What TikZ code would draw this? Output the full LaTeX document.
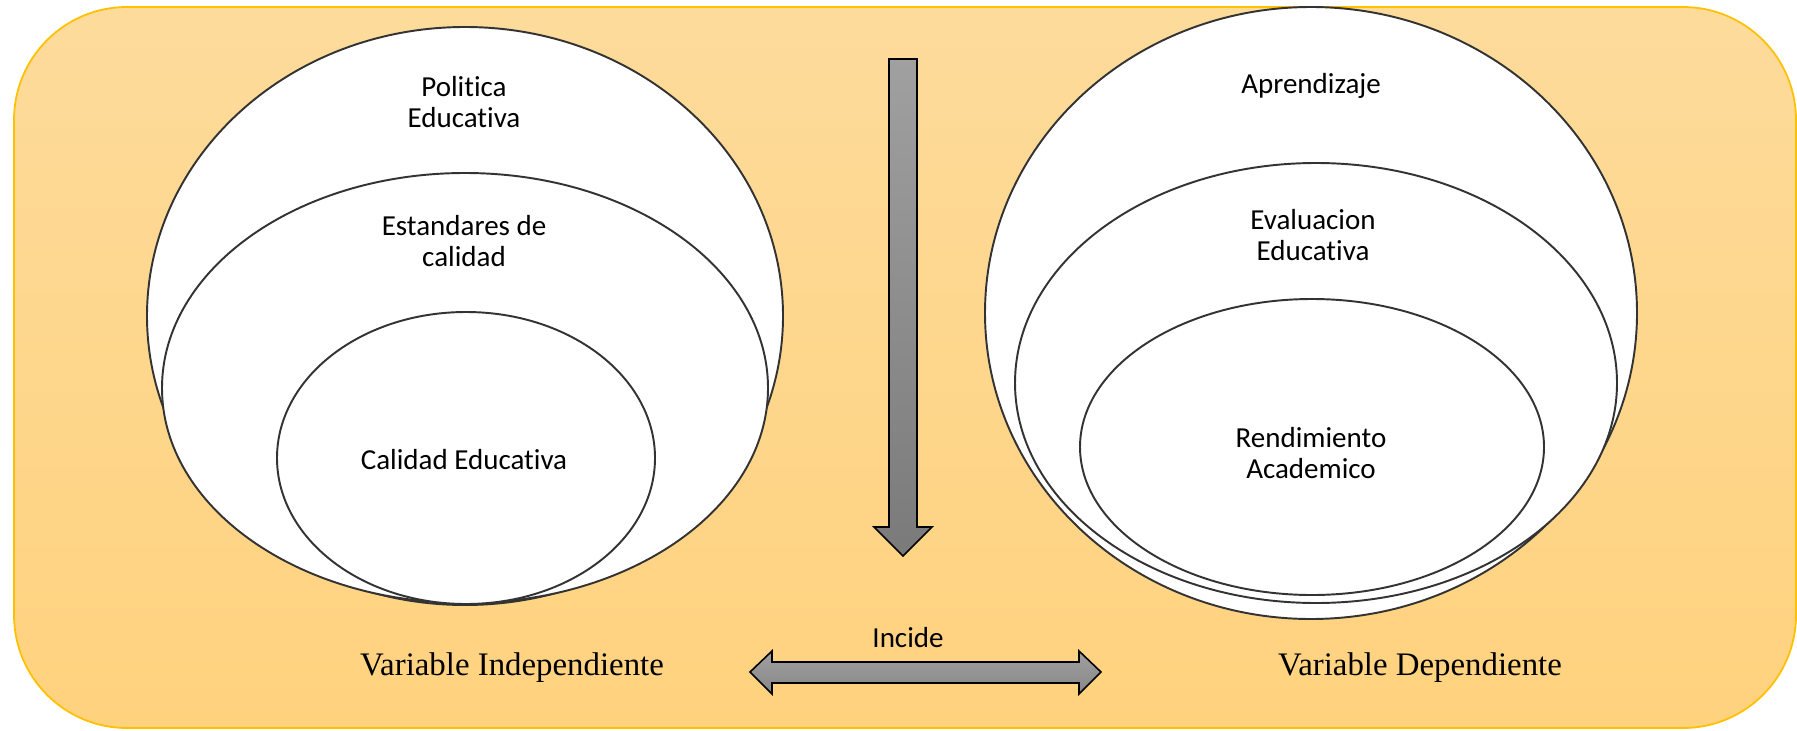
\documentclass[tikz,border=0pt]{standalone}
\usepackage{fontspec}
\setmainfont{Carlito}[Ligatures=NoCommon]
\newfontfamily\timesfont{Liberation Serif}
\usetikzlibrary{calc}

\definecolor{fondhaut}{HTML}{FDDB9B}
\definecolor{fondbas}{HTML}{FFD27E}
\definecolor{bord}{HTML}{FFC000}
\definecolor{flechehaut}{HTML}{A0A0A0}
\definecolor{flechebas}{HTML}{7A7A7A}
\definecolor{trait}{HTML}{333333}

\begin{document}
\begin{tikzpicture}[x=0.02cm,y=-0.02cm,line width=1pt]
\tikzset{
	cercle/.style={draw=trait, fill=white, line width=1.1pt},
	texte/.style={font=\fontsize{16.5}{17.6}\selectfont, align=center, inner sep=0pt},
	varlabel/.style={font=\timesfont\fontsize{18.7}{20}\selectfont, inner sep=0pt},
	fleche/.style={draw=black, line width=0.9pt, line join=miter}
}
\useasboundingbox (0,0) rectangle (1797,730);

%% fond
\shade [top color=fondhaut, bottom color=fondbas, draw=bord, line width=1pt, rounded corners=2.26cm] (14,7) rectangle (1796,728);

\coordinate (g1) at (465,316);
\coordinate (g2) at (465,388);
\coordinate (g3) at (466,458);
\coordinate (d1) at (1311,313);
\coordinate (d2) at (1316,383);
\coordinate (d3) at (1312,447);

%% cercles gauche
\draw [cercle] (g1) ellipse [x radius=318, y radius=289];
\draw [cercle] (g2) ellipse [x radius=303, y radius=215];
\draw [cercle] (g3) ellipse [x radius=189, y radius=146];

%% cercles droite
\draw [cercle] (d1) ellipse [x radius=326, y radius=306];
\draw [cercle] (d2) ellipse [x radius=301, y radius=220];
\draw [cercle] (d3) ellipse [x radius=232, y radius=148];

%% textes
\node [texte] (politica) at (464,102) {Politica\\Educativa};
\node [texte] (estandares) at (464,241) {Estandares de\\calidad};
\node [texte] (calidad) at (464,460) {Calidad Educativa};
\node [texte] (aprendizaje) at (1311,86) {Aprendizaje};
\node [texte] (evaluacion) at (1313,235) {Evaluacion\\Educativa};
\node [texte] (rendimiento) at (1311,453) {Rendimiento\\Academico};

%% fleche bas
\shade [fleche, top color=flechehaut, bottom color=flechebas]
	(889,59)--(917,59)--(917,527)--(932,527)--(903,556)--(874,527)--(889,527)--cycle;

%% fleche double
\shade [fleche, top color=flechehaut, bottom color=flechebas!90]
	(750,672)--(772,651)--(772,662)--(1079,662)--(1079,651)--(1101,672)--(1079,694)--(1079,683)--(772,683)--(772,694)--cycle;
\node [texte] (incide) at (908,638) {Incide};

%% variables
\node [varlabel] (indep) at (512,668) {Variable Independiente};
\node [varlabel] (dep) at (1420,668) {Variable Dependiente};

\end{tikzpicture}
\end{document}
